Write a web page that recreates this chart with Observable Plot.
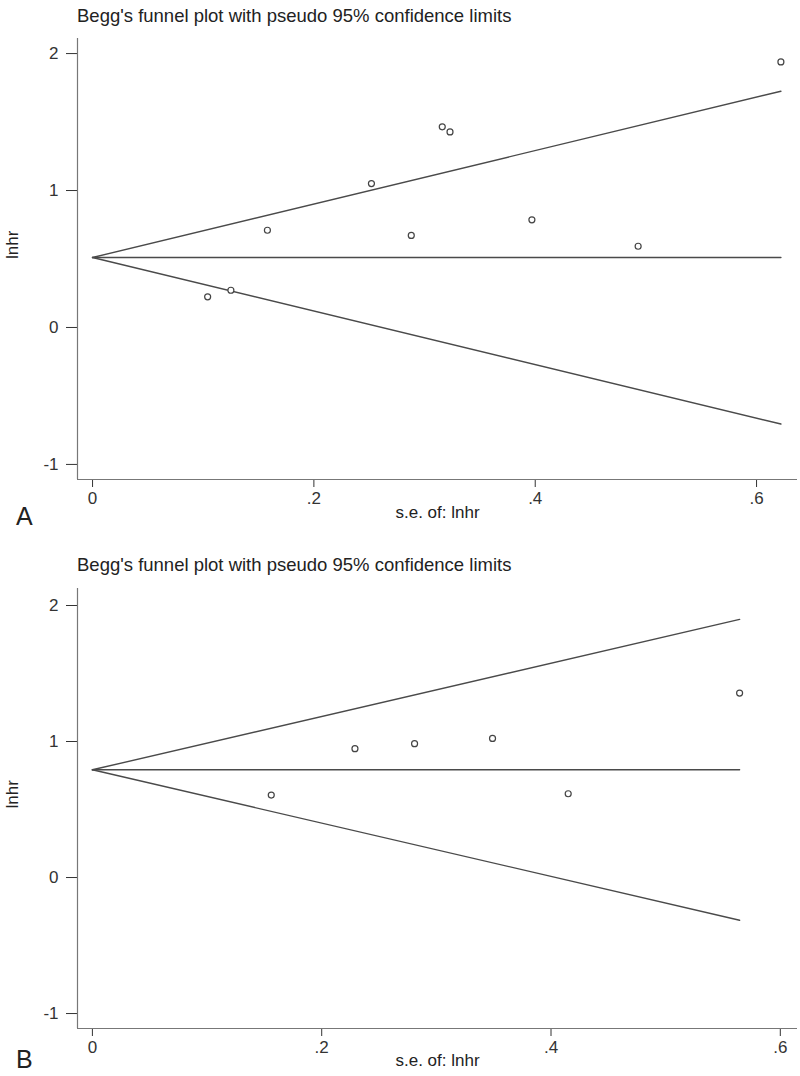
<!DOCTYPE html>
<html><head><meta charset="utf-8">
<script src="https://cdn.jsdelivr.net/npm/d3@7"></script>
<script src="https://cdn.jsdelivr.net/npm/@observablehq/plot@0.6"></script>
<style>
body{margin:0;background:#fff;font-family:"Liberation Sans",Arial,sans-serif;}
#wrap{position:relative;width:800px;height:1076px;overflow:hidden;background:#fff}
.title{position:absolute;left:77px;font-size:18.5px;color:#222;white-space:nowrap;line-height:1}
.plab{position:absolute;left:16px;font-size:25px;color:#222;line-height:1}
.svgbox{position:absolute;left:0}
</style></head><body><div id="wrap"></div>
<script>
const titleText = "Begg's funnel plot with pseudo 95% confidence limits";
const xLabel = "s.e. of: lnhr";
const yLabel = "lnhr";
const xTicks = [0, 0.2, 0.4, 0.6];
const yTicks = [-1, 0, 1, 2];
const panelNames = ["A", "B"];

// Panel A
const seA    = [0.104, 0.125, 0.158, 0.252, 0.288, 0.316, 0.323, 0.397, 0.493, 0.622];
const lnhrA  = [0.224, 0.272, 0.710, 1.051, 0.672, 1.465, 1.428, 0.786, 0.593, 1.939];
const funnelSeA = [0, 0.622];
const pooledA   = [0.511, 0.511];
const upperA    = [0.511, 1.725];
const lowerA    = [0.511, -0.705];

// Panel B
const seB    = [0.156, 0.229, 0.281, 0.349, 0.415, 0.5645];
const lnhrB  = [0.606, 0.947, 0.984, 1.023, 0.616, 1.356];
const funnelSeB = [0, 0.5645];
const pooledB   = [0.792, 0.792];
const upperB    = [0.792, 1.898];
const lowerB    = [0.792, -0.314];

const fmt = d => d === 0 ? "0" : String(d).replace(/^(-?)0\./, "$1.");

function panel(se, lnhr, fSe, pooled, upper, lower, xDomain, yDomain, height, marginBottom, xLabelDy) {
  const pts = se.map((s, i) => ({se: s, lnhr: lnhr[i]}));
  const fun = fSe.map((s, i) => ({se: s, pooled: pooled[i], upper: upper[i], lower: lower[i]}));
  return Plot.plot({
    width: 800, height, marginLeft: 77, marginRight: 3, marginTop: 8, marginBottom,
    style: {fontFamily: "Liberation Sans, Arial, sans-serif", fontSize: "17px", color: "#333", background: "#fff"},
    x: {domain: xDomain, ticks: xTicks, tickFormat: fmt, tickSize: 8, tickPadding: 4, label: null},
    y: {domain: yDomain, ticks: yTicks, tickFormat: fmt, tickSize: 11, tickPadding: 8, label: null},
    marks: [
      Plot.ruleX([xDomain[0]], {stroke: "#777", strokeWidth: 1.2}),
      Plot.ruleY([yDomain[0]], {stroke: "#777", strokeWidth: 1.2}),
      Plot.line(fun, {x: "se", y: "upper", stroke: "#4a4a4a", strokeWidth: 1.4}),
      Plot.line(fun, {x: "se", y: "pooled", stroke: "#4a4a4a", strokeWidth: 1.4}),
      Plot.line(fun, {x: "se", y: "lower", stroke: "#4a4a4a", strokeWidth: 1.4}),
      Plot.dot(pts, {x: "se", y: "lnhr", r: 3, stroke: "#444", strokeWidth: 1.2, fill: "white"}),
      Plot.text([xLabel], {text: d => d, frameAnchor: "bottom", dy: xLabelDy, fill: "#222", fontSize: 17}),
      Plot.text([yLabel], {text: d => d, frameAnchor: "left", dx: -65, rotate: -90, fill: "#222", fontSize: 17})
    ]
  });
}

const wrap = document.getElementById("wrap");
function add(el, top) {
  const d = document.createElement("div");
  d.className = "svgbox"; d.style.top = top + "px";
  d.appendChild(el); wrap.appendChild(d);
}
function addText(cls, text, top) {
  const d = document.createElement("div");
  d.className = cls; d.textContent = text; d.style.top = top + "px";
  wrap.appendChild(d);
}

addText("title", titleText, 7);
add(panel(seA, lnhrA, funnelSeA, pooledA, upperA, lowerA, [-0.0136, 0.637], [-1.11, 2.11], 520, 71, 38), 30);
addText("plab", panelNames[0], 504);

addText("title", titleText, 556);
add(panel(seB, lnhrB, funnelSeB, pooledB, upperB, lowerB, [-0.013, 0.615], [-1.11, 2.125], 496, 48, 37), 580);
addText("plab", panelNames[1], 1047);
</script></body></html>
